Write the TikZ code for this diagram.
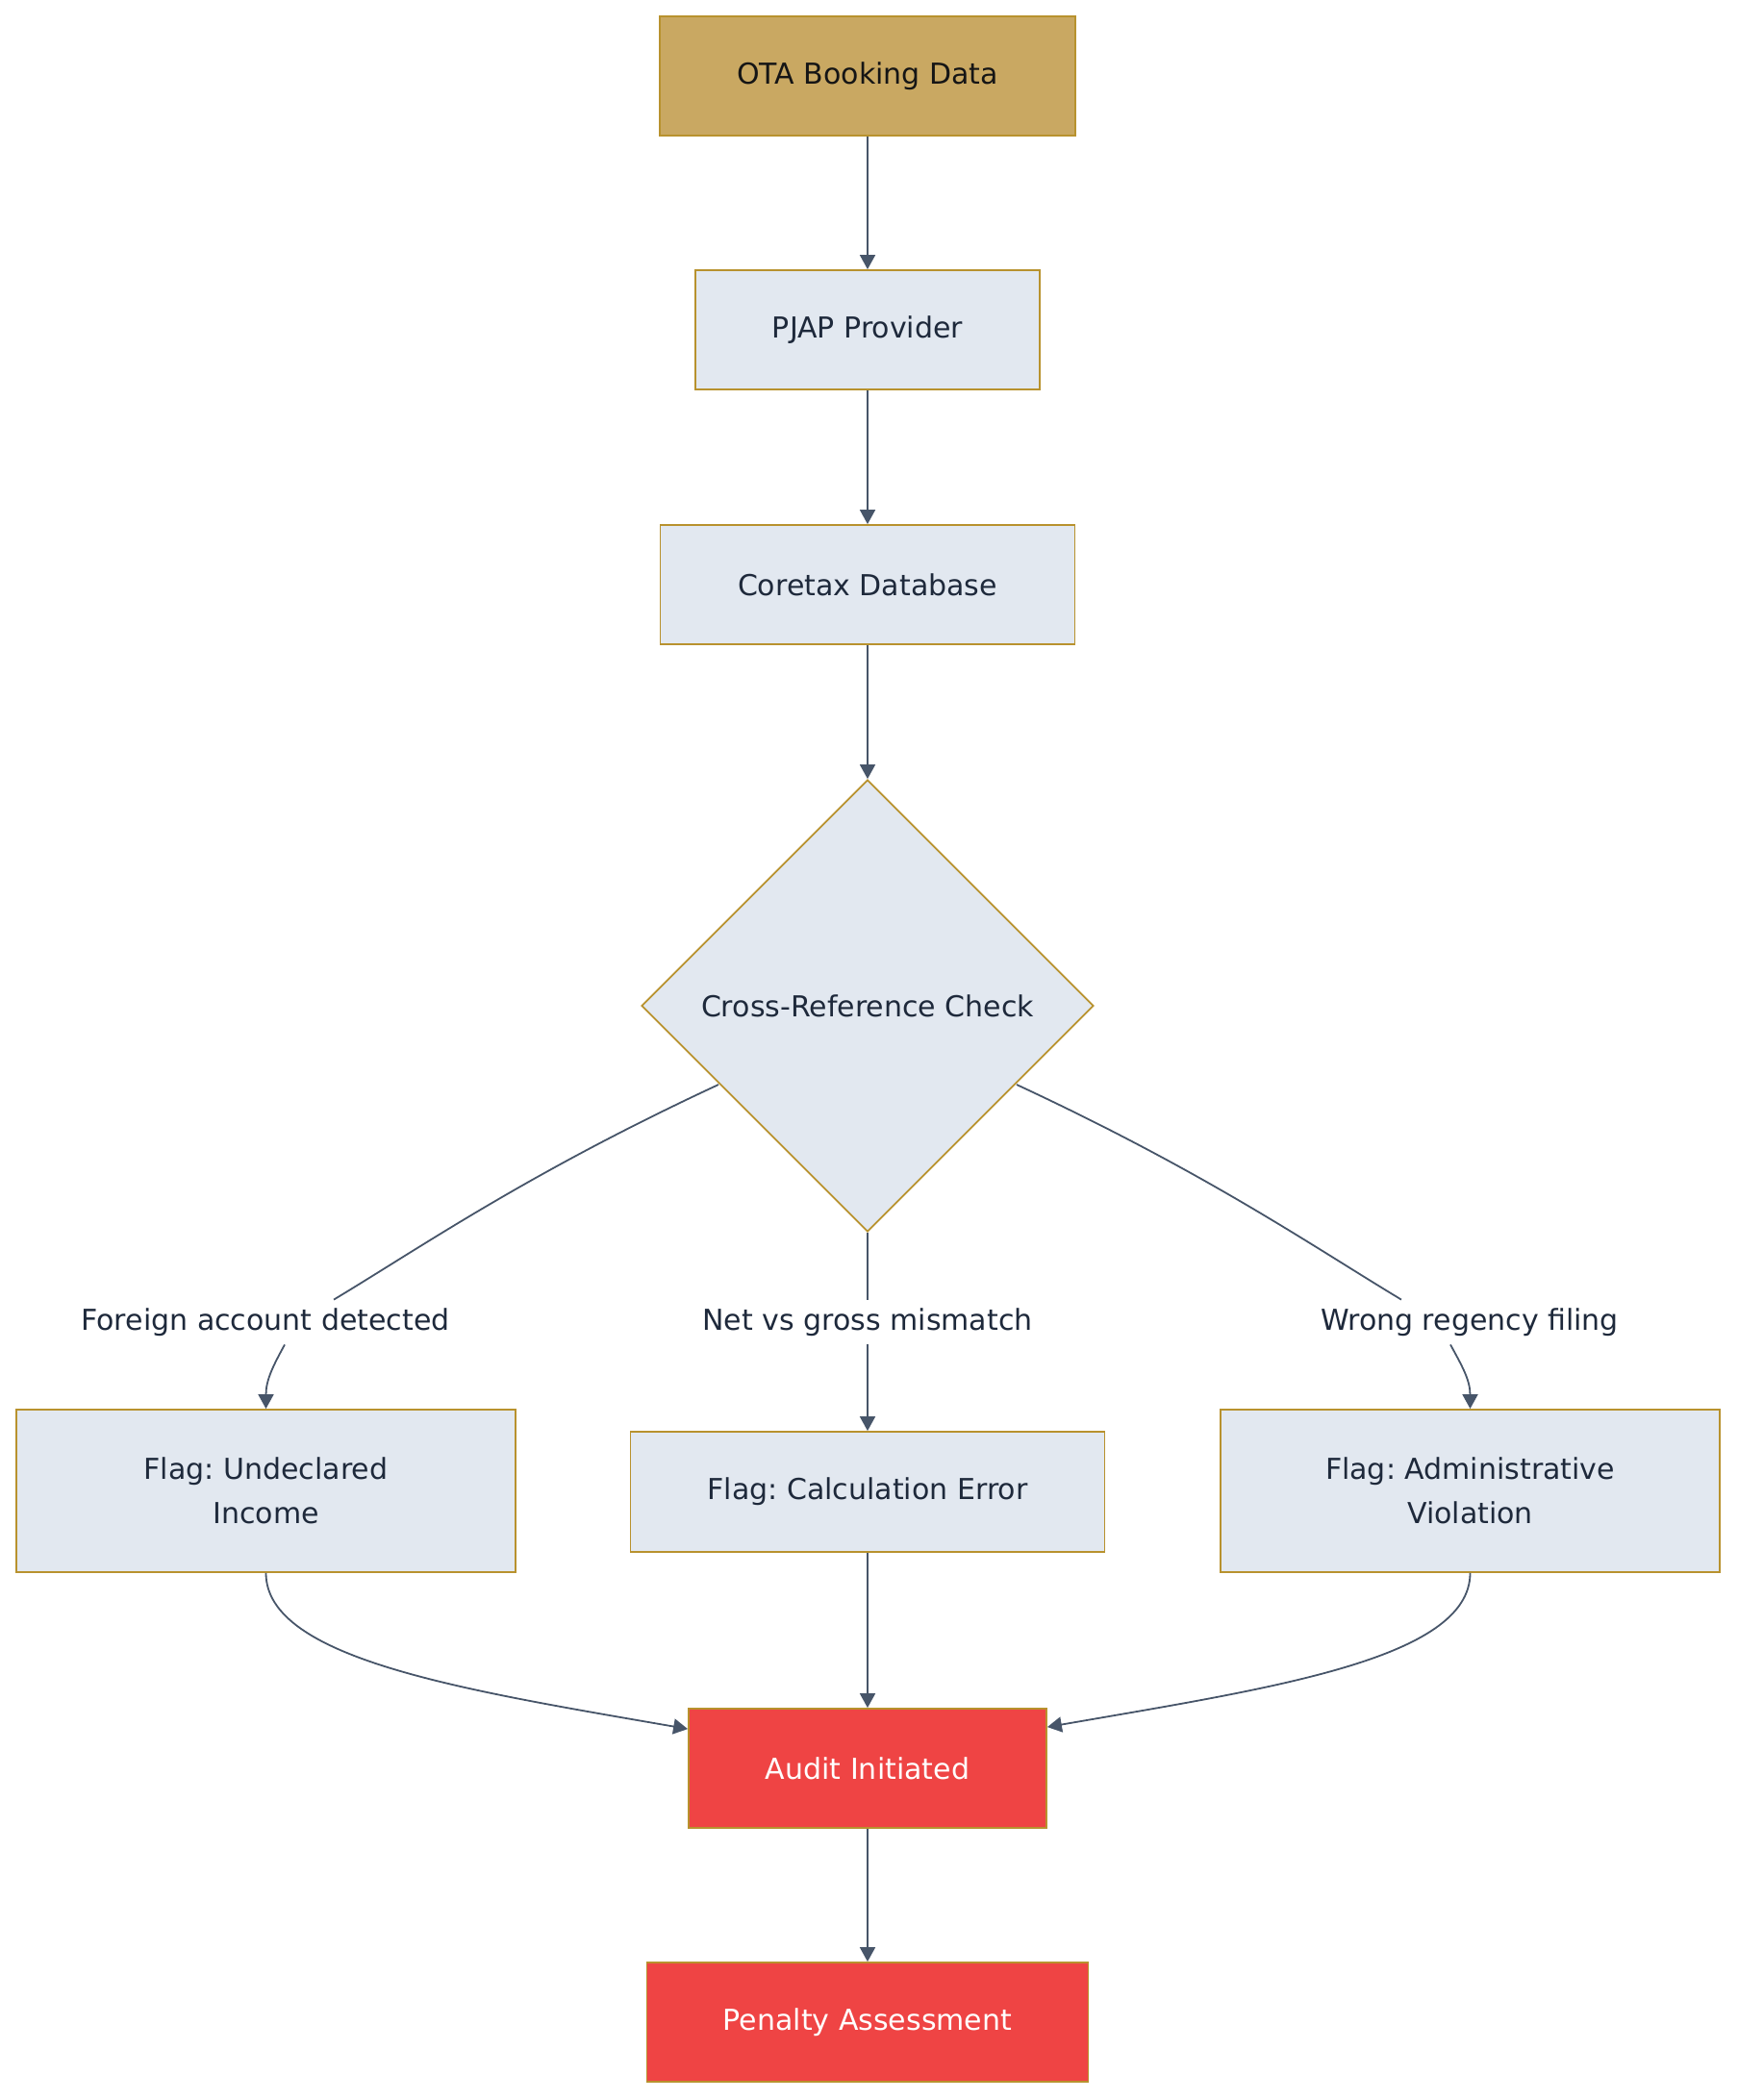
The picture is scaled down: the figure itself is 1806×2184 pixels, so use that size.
\documentclass[tikz,border=0pt]{standalone}
\usepackage{fontspec}
\setmainfont{DejaVu Sans}
\usetikzlibrary{arrows.meta,shapes.geometric,calc}
\definecolor{goldfill}{HTML}{C9A862}
\definecolor{goldline}{HTML}{B8922E}
\definecolor{boxfill}{HTML}{E2E8F0}
\definecolor{txt}{HTML}{1E293B}
\definecolor{darktxt}{HTML}{151515}
\definecolor{edgec}{HTML}{475569}
\definecolor{redfill}{HTML}{EF4444}
\frenchspacing
\begin{document}
\begin{tikzpicture}[x=0.5pt,y=-0.5pt,
 base/.style={draw=goldline, line width=0.9pt, inner sep=0pt, font=\fontsize{15}{23}\selectfont, align=center},
 procbox/.style={base, rectangle, fill=boxfill, text=txt},
 srcbox/.style={base, rectangle, fill=goldfill, text=darktxt},
 alertbox/.style={base, rectangle, fill=redfill, text=white},
 decbox/.style={base, diamond, fill=boxfill, text=txt, minimum width=235pt, minimum height=235pt, aspect=1},
 elabel/.style={inner sep=0pt, minimum height=23pt, text=txt, font=\fontsize{15}{23}\selectfont},
 conn/.style={draw=edgec, line width=0.9pt, -{Triangle[length=7.5pt,width=8pt]}},
 plainconn/.style={draw=edgec, line width=0.9pt}]
\useasboundingbox (0,0) rectangle (1806,2184);
\node[srcbox, minimum width=216pt, minimum height=62pt] (ota) at (902,79) {OTA Booking Data};
\node[procbox, minimum width=179pt, minimum height=62pt] (pjap) at (902,343) {PJAP Provider};
\node[procbox, minimum width=215.5pt, minimum height=62pt] (core) at (902,608) {Coretax Database};
\node[decbox] (chk) at (902,1046) {Cross-Reference Check};
\node[procbox, minimum width=259.5pt, minimum height=84.5pt] (und) at (276.5,1550.5) {Flag: Undeclared\\Income};
\node[procbox, minimum width=246.5pt, minimum height=62.5pt] (calc) at (902,1551.5) {Flag: Calculation Error};
\node[procbox, minimum width=259.5pt, minimum height=84.5pt] (adm) at (1528.5,1550.5) {Flag: Administrative\\Violation};
\node[alertbox, minimum width=186pt, minimum height=62pt] (audit) at (902,1839) {Audit Initiated};
\node[alertbox, minimum width=229.5pt, minimum height=62pt] (pen) at (902,2103) {Penalty Assessment};
\node[elabel] (lf) at (276,1375) {Foreign account detected};
\node[elabel] (lm) at (902,1375) {Net vs gross mismatch};
\node[elabel] (lr) at (1528,1375) {Wrong regency filing};
\draw[conn] (ota) -- (pjap);
\draw[conn] (pjap) -- (core);
\draw[conn] (core) -- (chk);
\draw[plainconn] ($(chk.center)+(-155,82)$) .. controls +(-200,93) and +(90,-54) .. ($(lf.north)+(71,0)$);
\draw[conn] ($(lf.south)+(20,0)$) .. controls +(-12,22) and +(0,-30) .. (und.north);
\draw[plainconn] (chk.south) -- (lm.north);
\draw[conn] (lm.south) -- (calc.north);
\draw[plainconn] ($(chk.center)+(155,82)$) .. controls +(200,93) and +(-90,-54) .. ($(lr.north)+(-71,0)$);
\draw[conn] ($(lr.south)+(-20,0)$) .. controls +(12,22) and +(0,-30) .. (adm.north);
\draw[conn] (und.south) .. controls +(0,90) and +(-230,-40) .. ($(audit.north west)+(0,22)$);
\draw[conn] (calc) -- (audit);
\draw[conn] (adm.south) .. controls +(0,90) and +(230,-40) .. ($(audit.north east)+(0,20)$);
\draw[conn] (audit) -- (pen);
\end{tikzpicture}
\end{document}
